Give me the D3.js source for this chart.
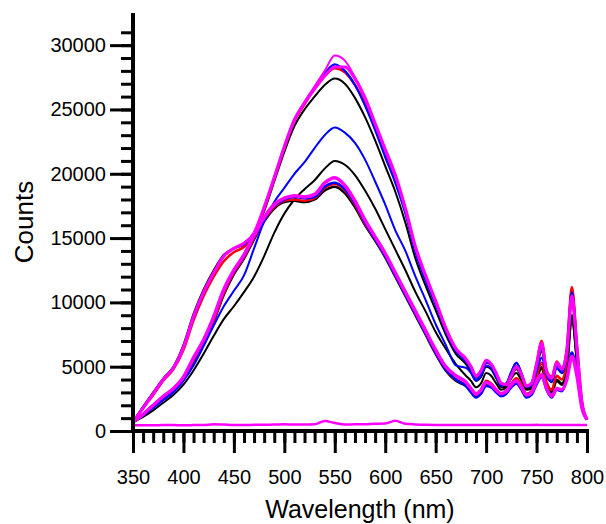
<!DOCTYPE html>
<html>
<head>
<meta charset="utf-8">
<script src="https://cdn.jsdelivr.net/npm/d3@7"></script>
<style>
  html, body { margin: 0; padding: 0; background: #fff; }
  svg { display: block; }
  text { font-family: "Liberation Sans", Arial, sans-serif; fill: #000; }
</style>
</head>
<body>
<svg id="chart" width="606" height="524"></svg>
<script>
// Emission spectra: counts vs wavelength (nm)
const wavelength = [350,360,370,380,390,400,410,420,430,440,450,460,470,480,490,500,510,520,530,540,550,560,570,580,590,600,610,620,630,640,650,660,670,680,
  685,690,695,700,705,710,715,720,725,730,735,740,745,750,755,760,765,770,775,780,785,790,795,800];

// high-intensity spectra
const highMagenta = [700,1800,2900,4000,4900,6500,8900,10800,12300,13600,14200,14600,15400,17400,19700,22100,24200,25600,26800,28000,29200,28800,27500,25900,23900,21800,19800,17200,14200,12000,10100,8000,6400,5600,
  5000,4300,4700,5500,5200,4500,3700,3600,4300,5000,4400,3500,3700,5200,6900,4600,4100,5300,4800,6100,10000,6400,2200,900];
const highMagenta2 = [700,1800,2900,4000,4900,6500,8900,10800,12300,13600,14200,14600,15400,17400,19700,22100,24200,25500,26600,27600,28300,28300,27400,25900,23900,21900,19900,17300,14300,12100,10100,8000,6400,5600,
  5000,4300,4700,5500,5200,4500,3700,3600,4300,5000,4400,3500,3700,5200,6800,4600,4100,5300,4800,6200,10500,6500,2200,900];
const highBlue = [700,1800,2900,4000,4900,6500,8800,10700,12300,13600,14200,14500,15300,17300,19700,22100,24200,25500,26700,27800,28500,28000,26900,25300,23400,21300,19300,16900,13900,11700,9800,7800,6200,5400,
  4800,4000,4400,5300,5200,4500,3600,3700,4600,5300,4500,3400,3600,5000,6500,4500,4000,5100,4700,6200,10800,6500,2200,900];
const highRed = [700,1800,2800,3900,4800,6300,8600,10500,12000,13200,13900,14300,15200,17200,19600,22000,24100,25400,26600,27600,28200,27900,26900,25500,23700,21700,19700,17200,14200,12000,10000,8000,6300,5500,
  4900,4200,4600,5400,5100,4400,3700,3600,4400,5000,4400,3500,3700,5200,7000,4700,4200,5400,4900,6400,11200,6700,2300,900];
const highBlack = [700,1900,3000,4100,5000,6700,9100,11000,12500,13700,14200,14500,15300,17100,19400,21700,23700,25000,26000,26900,27400,27000,25900,24400,22600,20600,18600,16200,13400,11300,9400,7500,6000,5200,
  4600,3900,4200,5000,4800,4100,3400,3500,4300,4800,4200,3300,3400,4800,6200,4300,3800,4900,4500,5900,10300,6200,2100,900];

// mid-intensity spectra
const midBlue = [700,1200,1800,2400,3000,3900,5100,6600,8200,9700,10900,12100,14200,16300,17800,18900,20000,20900,22000,23000,23600,23200,22400,21100,19400,17600,15600,14000,12000,10200,8300,6700,5100,4900,
  4500,3900,4300,5100,4900,4200,3500,3700,4600,5300,4500,3500,3500,4600,5700,4300,3800,4900,4500,5800,10400,6200,2100,900];
const midBlack = [700,1100,1600,2200,2800,3600,4700,6000,7400,8700,9700,10800,12000,13600,15400,16900,18000,18800,19500,20400,21000,20700,19900,18700,17300,15700,14100,12500,10800,9300,7700,6400,5200,4300,
  3900,3400,3700,4500,4300,3700,3200,3400,4100,4500,3900,3200,3300,4300,5000,3700,3200,4000,3700,4900,8700,5300,1900,900];

// low-intensity spectra
const lowMagenta = [700,1300,2000,2700,3300,4200,5700,7100,8900,11000,12500,13700,15200,16600,17600,18100,18300,18200,18400,19300,19700,19100,17900,16400,15100,13800,12300,10800,9300,7800,6300,5000,4300,3800,
  3300,2900,3200,3800,3600,3200,2900,3100,3600,3900,3400,2800,3000,3800,4400,3300,2700,3300,3200,4000,5800,4300,1800,900];
const lowBlue = [700,1300,2000,2600,3200,4100,5600,7000,8800,10900,12400,13600,15100,16500,17500,18000,18200,18100,18200,19000,19300,18800,17700,16200,14900,13600,12100,10600,9100,7600,6100,4800,4000,3500,
  3000,2600,2900,3500,3400,3000,2700,2900,3400,3700,3200,2600,2800,3600,4200,3200,2600,3200,3100,4100,6100,4400,1800,900];
const lowRed = [700,1300,2000,2600,3200,4100,5500,6900,8600,10700,12300,13500,15000,16400,17400,17900,18000,17900,18100,18900,19200,18700,17600,16100,14900,13600,12100,10600,9100,7600,6100,4800,4000,3600,
  3200,2800,3200,3900,3700,3200,2900,3100,3700,4100,3600,2900,3100,4200,5300,3800,3200,4300,4000,5600,10900,6300,2100,900];
const lowBlack = [700,1200,1900,2500,3100,4000,5400,6800,8500,10600,12200,13400,14900,16300,17300,17800,17900,17800,18000,18700,19000,18500,17400,16000,14800,13500,12000,10500,9000,7500,6000,4700,3900,3500,
  3100,2700,3000,3700,3600,3100,2800,3000,3600,4000,3500,2800,3000,4000,4900,3600,3000,3900,3600,4800,9000,5500,2000,900];

// background (blank) spectrum
const blankMagenta = [450,450,450,460,460,450,460,470,520,500,470,470,480,490,500,520,500,500,520,780,620,500,520,530,560,580,800,560,510,480,470,470,470,460,
  460,460,460,460,460,460,460,460,460,460,460,460,460,480,460,460,460,460,460,460,460,460,460,460];

const xTicksMajor = [350,400,450,500,550,600,650,700,750,800];
const yTicksMajor = [0,5000,10000,15000,20000,25000,30000];

// drawing order and styling of each spectrum
const spectra = [
  { values: midBlack,     color: "#000000", width: 2 },
  { values: highBlack,    color: "#000000", width: 2 },
  { values: lowBlack,     color: "#000000", width: 2.5 },
  { values: highRed,      color: "#ff0000", width: 2.5 },
  { values: lowRed,       color: "#ff0000", width: 2.5 },
  { values: midBlue,      color: "#0000ff", width: 2 },
  { values: highBlue,     color: "#0000ff", width: 2.2 },
  { values: lowBlue,      color: "#0000ff", width: 2.5 },
  { values: highMagenta2, color: "#ff00ff", width: 3.2 },
  { values: highMagenta,  color: "#ff00ff", width: 2 },
  { values: lowMagenta,   color: "#ff00ff", width: 3.5 },
  { values: blankMagenta, color: "#ff00ff", width: 2.5 }
];

const svg = d3.select("#chart");

const x = d3.scaleLinear().domain([350, 800]).range([133, 587]);
const y = d3.scaleLinear().domain([0, 32500]).range([431, 13]);

// spectra
const line = d3.line()
  .x((d, i) => x(wavelength[i]))
  .y(d => y(d))
  .curve(d3.curveMonotoneX);

svg.append("g").attr("class", "spectra")
  .selectAll("path")
  .data(spectra)
  .join("path")
  .attr("d", s => line(s.values))
  .attr("fill", "none")
  .attr("stroke", s => s.color)
  .attr("stroke-width", s => s.width)
  .attr("stroke-linejoin", "round");

// x axis: minor ticks every 10 nm, labelled major ticks every 50 nm
const xMinor = svg.append("g").attr("transform", `translate(0,${y(0)})`)
  .call(d3.axisBottom(x).tickValues(d3.range(350, 801, 10)).tickSize(12).tickFormat(""));
const xMajor = svg.append("g").attr("transform", `translate(0,${y(0)})`)
  .call(d3.axisBottom(x).tickValues(xTicksMajor).tickSize(22).tickPadding(17).tickFormat(d3.format("d")));

// y axis: minor ticks every 1000 counts, labelled major ticks every 5000
const yMinor = svg.append("g").attr("transform", `translate(${x(350)},0)`)
  .call(d3.axisLeft(y).tickValues(d3.range(0, 32000, 1000)).tickSize(12).tickFormat(""));
const yMajor = svg.append("g").attr("transform", `translate(${x(350)},0)`)
  .call(d3.axisLeft(y).tickValues(yTicksMajor).tickSize(23).tickPadding(4).tickFormat(d3.format("d")));

[xMinor, xMajor, yMinor, yMajor].forEach(g => {
  g.select(".domain").remove();
  g.selectAll(".tick line").attr("stroke", "#000").attr("stroke-width", 3);
  g.selectAll(".tick text").style("font-size", "20px").style("font-family", "'Liberation Sans', Arial, sans-serif").attr("fill", "#000");
});

// axis lines
svg.append("line")
  .attr("x1", x(350) - 2).attr("x2", x(800) + 2)
  .attr("y1", y(0)).attr("y2", y(0))
  .attr("stroke", "#000").attr("stroke-width", 4);
svg.append("line")
  .attr("x1", x(350)).attr("x2", x(350))
  .attr("y1", y(0) + 2).attr("y2", y(32500))
  .attr("stroke", "#000").attr("stroke-width", 4);

// axis titles
svg.append("text")
  .attr("x", (x(350) + x(800)) / 2).attr("y", 518)
  .attr("text-anchor", "middle")
  .style("font-size", "25px")
  .text("Wavelength (nm)");

svg.append("text")
  .attr("transform", `translate(33,${222}) rotate(-90)`)
  .attr("text-anchor", "middle")
  .style("font-size", "26px")
  .text("Counts");
</script>
</body>
</html>
